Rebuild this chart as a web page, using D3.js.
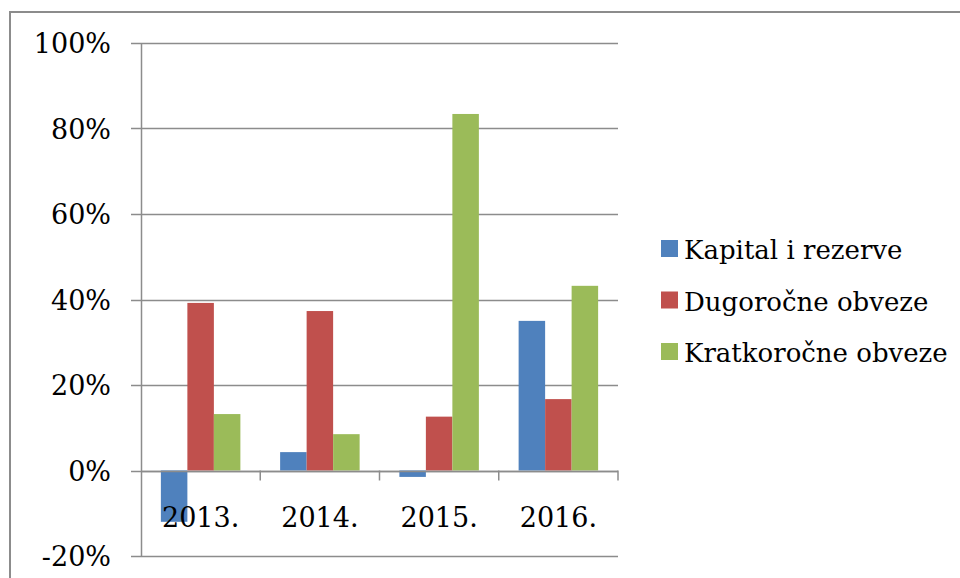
<!DOCTYPE html>
<html lang="hr">
<head>
    <meta charset="UTF-8">
    <title>Struktura izvora financiranja</title>
    <script src="https://d3js.org/d3.v7.min.js"></script>
    <style>
        body { margin: 0; background: #fff; }
    </style>
</head>
<body>
<script>
    // Data (percent)
    const years = ["2013.", "2014.", "2015.", "2016."];
    const seriesNames = ["Kapital i rezerve", "Dugoročne obveze", "Kratkoročne obveze"];
    const kapital = [-12.0, 4.3, -1.5, 35.0];
    const dugorocne = [39.2, 37.3, 12.6, 16.7];
    const kratkorocne = [13.2, 8.5, 83.4, 43.2];
    const yTicks = [-20, 0, 20, 40, 60, 80, 100];
    const colors = ["#4F81BD", "#C0504D", "#9BBB59"];

    const values = [kapital, dugorocne, kratkorocne];
    const fontFamily = "'DejaVu Serif', serif";
    const fontSize = 27;

    const width = 960, height = 578;
    const plot = {left: 141, right: 618, top: 43, bottom: 556};

    const svg = d3.select("body").append("svg")
        .attr("width", width)
        .attr("height", height)
        .attr("font-family", fontFamily);

    // outer chart frame (cut off at right and bottom)
    svg.append("rect")
        .attr("x", 10).attr("y", 12)
        .attr("width", 1000).attr("height", 1000)
        .attr("fill", "none")
        .attr("stroke", "#8c8c8c")
        .attr("stroke-width", 2);

    const y = d3.scaleLinear()
        .domain([-20, 100])
        .range([plot.bottom, plot.top]);

    const x0 = d3.scaleBand()
        .domain(years)
        .range([plot.left, plot.right])
        .paddingInner(0)
        .paddingOuter(0);

    const x1 = d3.scaleBand()
        .domain(seriesNames)
        .range([0, x0.bandwidth()])
        .paddingInner(0)
        .paddingOuter(0.75);

    // gridlines + y tick marks
    svg.append("g")
        .selectAll("line")
        .data(yTicks)
        .join("line")
        .attr("x1", plot.left - 10)
        .attr("x2", plot.right)
        .attr("y1", d => Math.round(y(d)) + 0.5)
        .attr("y2", d => Math.round(y(d)) + 0.5)
        .attr("stroke", "#8c8c8c")
        .attr("stroke-width", 1.5);

    // y axis line
    svg.append("line")
        .attr("x1", plot.left + 0.5).attr("x2", plot.left + 0.5)
        .attr("y1", plot.top).attr("y2", plot.bottom)
        .attr("stroke", "#8c8c8c")
        .attr("stroke-width", 1.5);

    // y labels
    svg.append("g")
        .selectAll("text")
        .data(yTicks)
        .join("text")
        .attr("x", 111)
        .attr("y", d => y(d) + 10)
        .attr("text-anchor", "end")
        .attr("font-size", fontSize)
        .text(d => d + "%");

    // bars
    const groups = svg.append("g")
        .selectAll("g")
        .data(seriesNames)
        .join("g")
        .attr("fill", (d, i) => colors[i]);

    groups.selectAll("rect")
        .data((s, i) => years.map((yr, j) => ({year: yr, series: s, value: values[i][j]})))
        .join("rect")
        .attr("x", d => x0(d.year) + x1(d.series))
        .attr("width", x1.bandwidth())
        .attr("y", d => y(Math.max(0, d.value)))
        .attr("height", d => Math.abs(y(d.value) - y(0)));

    // zero axis with category ticks
    svg.append("line")
        .attr("x1", plot.left).attr("x2", plot.right)
        .attr("y1", Math.round(y(0)) + 0.5).attr("y2", Math.round(y(0)) + 0.5)
        .attr("stroke", "#8c8c8c")
        .attr("stroke-width", 1.5);

    svg.append("g")
        .selectAll("line")
        .data(years.slice(1).map(d => x0(d)).concat([plot.right]))
        .join("line")
        .attr("x1", d => d).attr("x2", d => d)
        .attr("y1", y(0)).attr("y2", y(0) + 10)
        .attr("stroke", "#8c8c8c")
        .attr("stroke-width", 1.5);

    // category labels
    svg.append("g")
        .selectAll("text")
        .data(years)
        .join("text")
        .attr("x", d => x0(d) + x0.bandwidth() / 2)
        .attr("y", 527)
        .attr("text-anchor", "middle")
        .attr("font-size", fontSize)
        .text(d => d);

    // legend
    const legend = svg.append("g")
        .selectAll("g")
        .data(seriesNames)
        .join("g")
        .attr("transform", (d, i) => `translate(661, ${240 + i * 51.5})`);

    legend.append("rect")
        .attr("width", 17).attr("height", 17)
        .attr("fill", (d, i) => colors[i]);

    legend.append("text")
        .attr("x", 23)
        .attr("y", 19)
        .attr("font-size", 26)
        .text(d => d);
</script>
</body>
</html>
